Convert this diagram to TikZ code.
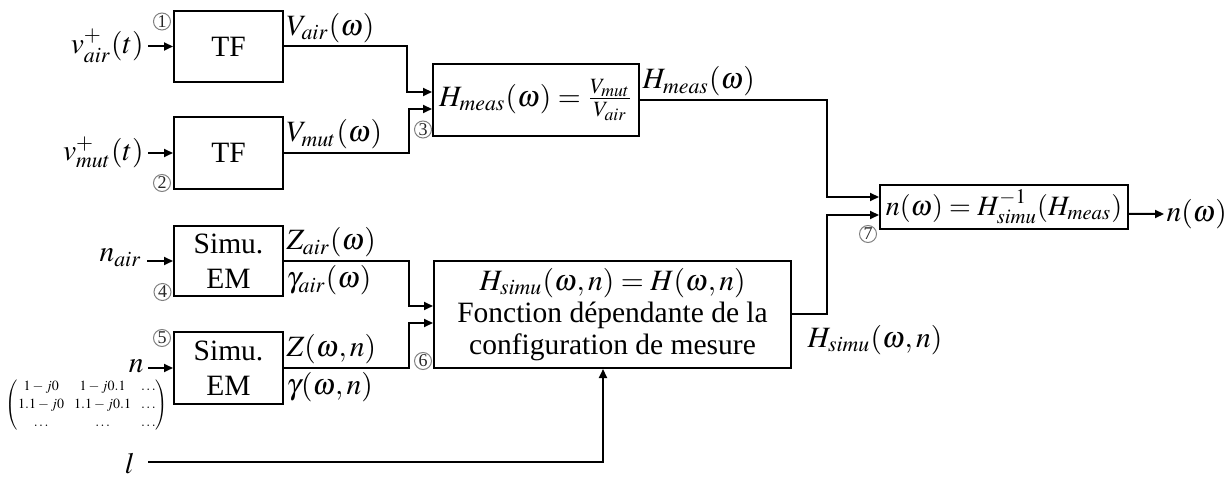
\documentclass[tikz,border=0pt]{standalone}
\usepackage{amsmath}
\usepackage{mathptmx}
\usepackage[no-math]{fontspec}
\setmainfont{Liberation Serif}
\usetikzlibrary{arrows.meta}
\begin{document}
\begin{tikzpicture}[x=0.4pt,y=-0.4pt,
  every node/.style={font=\fontsize{11.8}{14}\selectfont},
  blk/.style={draw,line width=0.8pt,inner sep=0pt,align=center},
  arr/.style={line width=0.8pt,-{Triangle[length=3.6pt,width=3.2pt]}},
  num/.style={circle,draw=black!50,line width=0.4pt,minimum size=6.8pt,inner sep=0pt,text=black!85,font=\fontsize{7.2}{7.2}\selectfont},
  lab/.style={inner sep=0.8pt}]
\useasboundingbox (0,0) rectangle (1231,478);

% blocks
\node[blk,minimum width=43.6pt,minimum height=28.4pt] (tf1) at (228.5,46.5) {TF};
\node[blk,minimum width=43.6pt,minimum height=28.8pt] (tf2) at (228.5,153) {TF};
\node[blk,minimum width=82.4pt,minimum height=28.8pt] (hmeas) at (536,100) {$H_{meas}(\omega)=\frac{V_{mut}}{V_{air}}$};
\node[blk,minimum width=43.6pt,minimum height=28pt] (sim1) at (228.5,261) {Simu.\\EM};
\node[blk,minimum width=43.6pt,minimum height=28.8pt] (sim2) at (228.5,368) {Simu.\\EM};
\node[blk,minimum width=142.8pt,minimum height=42.8pt,font=\fontsize{11.8}{12.8}\selectfont] (hsimu) at (612.5,314.5) {$H_{simu}(\omega,n)=H(\omega,n)$\\Fonction dépendante de la\\configuration de mesure};
\node[blk,minimum width=99.2pt,minimum height=17.6pt,font=\fontsize{11.2}{13}\selectfont] (fin) at (1004,207) {$n(\omega)=H^{-1}_{simu}(H_{meas})$};

% input labels
\node[lab,anchor=base east] (vair) at (146,53.5) {$v^{+}_{air}(t)$};
\node[lab,anchor=base east] (vmut) at (146,161) {$v^{+}_{mut}(t)$};
\node[lab,anchor=base east] (nair) at (144,262) {$n_{air}$};
\node[lab,anchor=base east] (nn) at (146,373) {$n$};
\node[lab,anchor=base east] (ll) at (137,473) {$l$};
\coordinate (lstart) at (148,462);
\node[inner sep=0pt,font=\fontsize{5.6}{7.2}\selectfont] (mat) at (87,405)
  {\setlength{\arraycolsep}{2pt}$\begin{pmatrix}1-j0 & 1-j0.1 & \ldots\\ 1.1-j0 & 1.1-j0.1 & \ldots\\ \ldots & \ldots & \ldots\end{pmatrix}$};

% output labels
\node[lab,anchor=south west,yshift=0.6pt] (oair) at (tf1.east) {$V_{air}(\omega)$};
\node[lab,anchor=south west,yshift=0.6pt] (omut) at (tf2.east) {$V_{mut}(\omega)$};
\node[lab,anchor=south west,yshift=0.6pt] (omeas) at (hmeas.east) {$H_{meas}(\omega)$};
\node[lab,anchor=south west,yshift=0.6pt] (ozair) at (sim1.east) {$Z_{air}(\omega)$};
\node[lab,anchor=north west,yshift=-0.8pt] (ogair) at (sim1.east) {$\gamma_{air}(\omega)$};
\node[lab,anchor=south west,yshift=0.6pt] (oz) at (sim2.east) {$Z(\omega,n)$};
\node[lab,anchor=north west,yshift=-0.8pt] (og) at (sim2.east) {$\gamma(\omega,n)$};
\node[lab,anchor=west] (osimu) at (805,340) {$H_{simu}(\omega,n)$};
\node[lab,anchor=west] (nout) at (1164,214) {$n(\omega)$};

% circled numbers
\node[num] (c1) at (162,21.5) {1};
\node[num] (c2) at (162,183) {2};
\node[num] (c3) at (423,129.5) {3};
\node[num] (c4) at (162.5,292) {4};
\node[num] (c5) at (162,338) {5};
\node[num] (c6) at (423,361) {6};
\node[num] (c7) at (868,234) {7};

% connectors
\draw[arr] ([xshift=0.8pt]vair.east |- tf1.west) -- (tf1.west);
\draw[arr] ([xshift=0.8pt]vmut.east |- tf2.west) -- (tf2.west);
\draw[arr] ([xshift=1.2pt]nair.east |- sim1.west) -- (sim1.west);
\draw[arr] ([xshift=0.8pt]nn.east |- sim2.west) -- (sim2.west);
\draw[arr] (tf1.east) -- ++(123,0) |- ([yshift=3.2pt]hmeas.west);
\draw[arr] (tf2.east) -- ++(125,0) |- ([yshift=-3.6pt]hmeas.west);
\draw[arr] (sim1.east) -- ++(125,0) |- ([yshift=3.4pt]hsimu.west);
\draw[arr] (sim2.east) -- ++(125,0) |- ([yshift=-3.4pt]hsimu.west);
\draw[arr] (lstart) -| ([xshift=-3.8pt]hsimu.south);
\draw[arr] (hmeas.east) -- ++(187,0) |- ([yshift=4pt]fin.west);
\draw[arr] (hsimu.east) -- ++(35,0) |- ([yshift=-3.2pt]fin.west);
\draw[arr] ([yshift=-2.8pt]fin.east) -- (nout.west);
\end{tikzpicture}
\end{document}
